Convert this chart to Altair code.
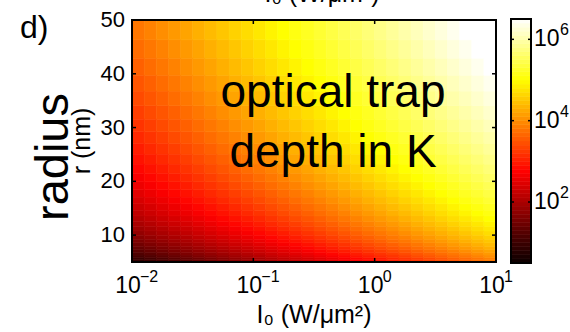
import altair as alt
import pandas as pd

FONT = "Liberation Sans"

# ---- data ----
# cell edges of the intensity axis (log10 of W/um^2)
log_intensity_edges = [-2.0, -1.9, -1.8, -1.7, -1.6, -1.5, -1.4, -1.3, -1.2, -1.1,
                       -1.0, -0.9, -0.8, -0.7, -0.6, -0.5, -0.4, -0.3, -0.2, -0.1,
                       0.0, 0.1, 0.2, 0.3, 0.4, 0.5, 0.6, 0.7, 0.8, 0.9, 1.0]
# cell edges of the radius axis (nm)
radius_edges = [5.0, 5.399, 5.83, 6.295, 6.797, 7.339, 7.924, 8.557, 9.239, 9.976,
                10.772, 11.632, 12.559, 13.561, 14.643, 15.811, 17.073, 18.435, 19.905,
                21.493, 23.208, 25.059, 27.058, 29.217, 31.548, 34.065, 36.782, 39.716,
                42.885, 46.306, 50.0]
# log10 of the optical trap depth (K); rows = radius cells (bottom to top), cols = intensity cells
log_trap_depth = [
    [0.9, 1.0, 1.1, 1.2, 1.3, 1.4, 1.5, 1.6, 1.7, 1.8, 1.9, 2.0, 2.1, 2.2, 2.3, 2.4, 2.5, 2.6, 2.7, 2.8, 2.9, 3.0, 3.1, 3.2, 3.3, 3.4, 3.5, 3.6, 3.7, 3.8],
    [1.0, 1.1, 1.2, 1.3, 1.4, 1.5, 1.6, 1.7, 1.8, 1.9, 2.0, 2.1, 2.2, 2.3, 2.4, 2.5, 2.6, 2.7, 2.8, 2.9, 3.0, 3.1, 3.2, 3.3, 3.4, 3.5, 3.6, 3.7, 3.8, 3.9],
    [1.1, 1.2, 1.3, 1.4, 1.5, 1.6, 1.7, 1.8, 1.9, 2.0, 2.1, 2.2, 2.3, 2.4, 2.5, 2.6, 2.7, 2.8, 2.9, 3.0, 3.1, 3.2, 3.3, 3.4, 3.5, 3.6, 3.7, 3.8, 3.9, 4.0],
    [1.2, 1.3, 1.4, 1.5, 1.6, 1.7, 1.8, 1.9, 2.0, 2.1, 2.2, 2.3, 2.4, 2.5, 2.6, 2.7, 2.8, 2.9, 3.0, 3.1, 3.2, 3.3, 3.4, 3.5, 3.6, 3.7, 3.8, 3.9, 4.0, 4.1],
    [1.3, 1.4, 1.5, 1.6, 1.7, 1.8, 1.9, 2.0, 2.1, 2.2, 2.3, 2.4, 2.5, 2.6, 2.7, 2.8, 2.9, 3.0, 3.1, 3.2, 3.3, 3.4, 3.5, 3.6, 3.7, 3.8, 3.9, 4.0, 4.1, 4.2],
    [1.4, 1.5, 1.6, 1.7, 1.8, 1.9, 2.0, 2.1, 2.2, 2.3, 2.4, 2.5, 2.6, 2.7, 2.8, 2.9, 3.0, 3.1, 3.2, 3.3, 3.4, 3.5, 3.6, 3.7, 3.8, 3.9, 4.0, 4.1, 4.2, 4.3],
    [1.5, 1.6, 1.7, 1.8, 1.9, 2.0, 2.1, 2.2, 2.3, 2.4, 2.5, 2.6, 2.7, 2.8, 2.9, 3.0, 3.1, 3.2, 3.3, 3.4, 3.5, 3.6, 3.7, 3.8, 3.9, 4.0, 4.1, 4.2, 4.3, 4.4],
    [1.6, 1.7, 1.8, 1.9, 2.0, 2.1, 2.2, 2.3, 2.4, 2.5, 2.6, 2.7, 2.8, 2.9, 3.0, 3.1, 3.2, 3.3, 3.4, 3.5, 3.6, 3.7, 3.8, 3.9, 4.0, 4.1, 4.2, 4.3, 4.4, 4.5],
    [1.7, 1.8, 1.9, 2.0, 2.1, 2.2, 2.3, 2.4, 2.5, 2.6, 2.7, 2.8, 2.9, 3.0, 3.1, 3.2, 3.3, 3.4, 3.5, 3.6, 3.7, 3.8, 3.9, 4.0, 4.1, 4.2, 4.3, 4.4, 4.5, 4.6],
    [1.8, 1.9, 2.0, 2.1, 2.2, 2.3, 2.4, 2.5, 2.6, 2.7, 2.8, 2.9, 3.0, 3.1, 3.2, 3.3, 3.4, 3.5, 3.6, 3.7, 3.8, 3.9, 4.0, 4.1, 4.2, 4.3, 4.4, 4.5, 4.6, 4.7],
    [1.9, 2.0, 2.1, 2.2, 2.3, 2.4, 2.5, 2.6, 2.7, 2.8, 2.9, 3.0, 3.1, 3.2, 3.3, 3.4, 3.5, 3.6, 3.7, 3.8, 3.9, 4.0, 4.1, 4.2, 4.3, 4.4, 4.5, 4.6, 4.7, 4.8],
    [2.0, 2.1, 2.2, 2.3, 2.4, 2.5, 2.6, 2.7, 2.8, 2.9, 3.0, 3.1, 3.2, 3.3, 3.4, 3.5, 3.6, 3.7, 3.8, 3.9, 4.0, 4.1, 4.2, 4.3, 4.4, 4.5, 4.6, 4.7, 4.8, 4.9],
    [2.1, 2.2, 2.3, 2.4, 2.5, 2.6, 2.7, 2.8, 2.9, 3.0, 3.1, 3.2, 3.3, 3.4, 3.5, 3.6, 3.7, 3.8, 3.9, 4.0, 4.1, 4.2, 4.3, 4.4, 4.5, 4.6, 4.7, 4.8, 4.9, 5.0],
    [2.2, 2.3, 2.4, 2.5, 2.6, 2.7, 2.8, 2.9, 3.0, 3.1, 3.2, 3.3, 3.4, 3.5, 3.6, 3.7, 3.8, 3.9, 4.0, 4.1, 4.2, 4.3, 4.4, 4.5, 4.6, 4.7, 4.8, 4.9, 5.0, 5.1],
    [2.3, 2.4, 2.5, 2.6, 2.7, 2.8, 2.9, 3.0, 3.1, 3.2, 3.3, 3.4, 3.5, 3.6, 3.7, 3.8, 3.9, 4.0, 4.1, 4.2, 4.3, 4.4, 4.5, 4.6, 4.7, 4.8, 4.9, 5.0, 5.1, 5.2],
    [2.4, 2.5, 2.6, 2.7, 2.8, 2.9, 3.0, 3.1, 3.2, 3.3, 3.4, 3.5, 3.6, 3.7, 3.8, 3.9, 4.0, 4.1, 4.2, 4.3, 4.4, 4.5, 4.6, 4.7, 4.8, 4.9, 5.0, 5.1, 5.2, 5.3],
    [2.5, 2.6, 2.7, 2.8, 2.9, 3.0, 3.1, 3.2, 3.3, 3.4, 3.5, 3.6, 3.7, 3.8, 3.9, 4.0, 4.1, 4.2, 4.3, 4.4, 4.5, 4.6, 4.7, 4.8, 4.9, 5.0, 5.1, 5.2, 5.3, 5.4],
    [2.6, 2.7, 2.8, 2.9, 3.0, 3.1, 3.2, 3.3, 3.4, 3.5, 3.6, 3.7, 3.8, 3.9, 4.0, 4.1, 4.2, 4.3, 4.4, 4.5, 4.6, 4.7, 4.8, 4.9, 5.0, 5.1, 5.2, 5.3, 5.4, 5.5],
    [2.7, 2.8, 2.9, 3.0, 3.1, 3.2, 3.3, 3.4, 3.5, 3.6, 3.7, 3.8, 3.9, 4.0, 4.1, 4.2, 4.3, 4.4, 4.5, 4.6, 4.7, 4.8, 4.9, 5.0, 5.1, 5.2, 5.3, 5.4, 5.5, 5.6],
    [2.8, 2.9, 3.0, 3.1, 3.2, 3.3, 3.4, 3.5, 3.6, 3.7, 3.8, 3.9, 4.0, 4.1, 4.2, 4.3, 4.4, 4.5, 4.6, 4.7, 4.8, 4.9, 5.0, 5.1, 5.2, 5.3, 5.4, 5.5, 5.6, 5.7],
    [2.9, 3.0, 3.1, 3.2, 3.3, 3.4, 3.5, 3.6, 3.7, 3.8, 3.9, 4.0, 4.1, 4.2, 4.3, 4.4, 4.5, 4.6, 4.7, 4.8, 4.9, 5.0, 5.1, 5.2, 5.3, 5.4, 5.5, 5.6, 5.7, 5.8],
    [3.0, 3.1, 3.2, 3.3, 3.4, 3.5, 3.6, 3.7, 3.8, 3.9, 4.0, 4.1, 4.2, 4.3, 4.4, 4.5, 4.6, 4.7, 4.8, 4.9, 5.0, 5.1, 5.2, 5.3, 5.4, 5.5, 5.6, 5.7, 5.8, 5.9],
    [3.1, 3.2, 3.3, 3.4, 3.5, 3.6, 3.7, 3.8, 3.9, 4.0, 4.1, 4.2, 4.3, 4.4, 4.5, 4.6, 4.7, 4.8, 4.9, 5.0, 5.1, 5.2, 5.3, 5.4, 5.5, 5.6, 5.7, 5.8, 5.9, 6.0],
    [3.2, 3.3, 3.4, 3.5, 3.6, 3.7, 3.8, 3.9, 4.0, 4.1, 4.2, 4.3, 4.4, 4.5, 4.6, 4.7, 4.8, 4.9, 5.0, 5.1, 5.2, 5.3, 5.4, 5.5, 5.6, 5.7, 5.8, 5.9, 6.0, 6.1],
    [3.3, 3.4, 3.5, 3.6, 3.7, 3.8, 3.9, 4.0, 4.1, 4.2, 4.3, 4.4, 4.5, 4.6, 4.7, 4.8, 4.9, 5.0, 5.1, 5.2, 5.3, 5.4, 5.5, 5.6, 5.7, 5.8, 5.9, 6.0, 6.1, 6.2],
    [3.4, 3.5, 3.6, 3.7, 3.8, 3.9, 4.0, 4.1, 4.2, 4.3, 4.4, 4.5, 4.6, 4.7, 4.8, 4.9, 5.0, 5.1, 5.2, 5.3, 5.4, 5.5, 5.6, 5.7, 5.8, 5.9, 6.0, 6.1, 6.2, 6.3],
    [3.5, 3.6, 3.7, 3.8, 3.9, 4.0, 4.1, 4.2, 4.3, 4.4, 4.5, 4.6, 4.7, 4.8, 4.9, 5.0, 5.1, 5.2, 5.3, 5.4, 5.5, 5.6, 5.7, 5.8, 5.9, 6.0, 6.1, 6.2, 6.3, 6.4],
    [3.6, 3.7, 3.8, 3.9, 4.0, 4.1, 4.2, 4.3, 4.4, 4.5, 4.6, 4.7, 4.8, 4.9, 5.0, 5.1, 5.2, 5.3, 5.4, 5.5, 5.6, 5.7, 5.8, 5.9, 6.0, 6.1, 6.2, 6.3, 6.4, 6.5],
    [3.7, 3.8, 3.9, 4.0, 4.1, 4.2, 4.3, 4.4, 4.5, 4.6, 4.7, 4.8, 4.9, 5.0, 5.1, 5.2, 5.3, 5.4, 5.5, 5.6, 5.7, 5.8, 5.9, 6.0, 6.1, 6.2, 6.3, 6.4, 6.5, 6.6],
    [3.8, 3.9, 4.0, 4.1, 4.2, 4.3, 4.4, 4.5, 4.6, 4.7, 4.8, 4.9, 5.0, 5.1, 5.2, 5.3, 5.4, 5.5, 5.6, 5.7, 5.8, 5.9, 6.0, 6.1, 6.2, 6.3, 6.4, 6.5, 6.6, 6.7],
]

x_tick_values = [0.01, 0.1, 1.0, 10.0]
x_tick_exponents = ["\u22122", "\u22121", "0", "1"]
x_inner_ticks = [0.1, 1.0]
y_tick_values = [10, 20, 30, 40, 50]
y_inner_ticks = [10, 20, 30, 40]

# colorbar: band edges in log10(K) and labelled decades
colorbar_edges = [0.5, 0.6, 0.7, 0.8, 0.9, 1.0, 1.1, 1.2, 1.3, 1.4, 1.5, 1.6, 1.7, 1.8, 1.9,
                  2.0, 2.1, 2.2, 2.3, 2.4, 2.5, 2.6, 2.7, 2.8, 2.9, 3.0, 3.1, 3.2, 3.3, 3.4,
                  3.5, 3.6, 3.7, 3.8, 3.9, 4.0, 4.1, 4.2, 4.3, 4.4, 4.5, 4.6, 4.7, 4.8, 4.9,
                  5.0, 5.1, 5.2, 5.3, 5.4, 5.5, 5.6, 5.7, 5.8, 5.9, 6.0, 6.1, 6.2, 6.3, 6.4, 6.5]
colorbar_ticks = [2, 4, 6]
colorbar_exponents = ["2", "4", "6"]

# MATLAB "hot" colormap stops over the colorbar range 10^0.5 .. 10^6.5
hot_stops = [0.5, 1.25, 2.0, 2.75, 3.5, 4.25, 5.0, 5.75, 6.5]
hot_colors = ["#0b0000", "#550000", "#aa0000", "#ff0000", "#ff5500",
              "#ffaa00", "#ffff00", "#ffff80", "#ffffff"]

# ---- build tables ----
rows = []
for j in range(len(radius_edges) - 1):
    for i in range(len(log_intensity_edges) - 1):
        rows.append({
            "I_lo": 10 ** log_intensity_edges[i],
            "I_hi": 10 ** log_intensity_edges[i + 1],
            "r_lo": radius_edges[j],
            "r_hi": radius_edges[j + 1],
            "logD": log_trap_depth[j][i],
        })
cells = pd.DataFrame(rows)

bands = pd.DataFrame({
    "cb_lo": colorbar_edges[:-1],
    "cb_hi": colorbar_edges[1:],
    "logD": [(a + b) / 2 for a, b in zip(colorbar_edges[:-1], colorbar_edges[1:])],
})

W, H = 364, 242
CB_X0, CB_X1 = 379, 399
xscale = alt.Scale(type="log", domain=[0.01, 10], nice=False)
yscale = alt.Scale(domain=[5, 50], nice=False, zero=False)
cbscale = alt.Scale(domain=[0.5, 6.5], range=[H + 1, -1], nice=False, zero=False)
cscale = alt.Scale(domain=hot_stops, range=hot_colors, interpolate="rgb", clamp=True)

X = lambda f: alt.X(f, scale=xscale, axis=None)
Y = lambda f: alt.Y(f, scale=yscale, axis=None)
CB = lambda f: alt.Y(f, scale=cbscale, axis=None)

heat = alt.Chart(cells).mark_rect(strokeWidth=0.6).encode(
    x=X("I_lo:Q"), x2="I_hi:Q", y=Y("r_lo:Q"), y2="r_hi:Q",
    color=alt.Color("logD:Q", scale=cscale, legend=None),
    stroke=alt.Color("logD:Q", scale=cscale, legend=None),
)

cbar = alt.Chart(bands).mark_rect(strokeWidth=0.6).encode(
    x=alt.value(CB_X0), x2=alt.value(CB_X1), y=CB("cb_lo:Q"), y2="cb_hi:Q",
    color=alt.Color("logD:Q", scale=cscale, legend=None),
    stroke=alt.Color("logD:Q", scale=cscale, legend=None),
)

one = pd.DataFrame({"k": [0]})
frame = alt.Chart(one).mark_rect(filled=False, stroke="black", strokeWidth=2).encode(
    x=alt.value(0), x2=alt.value(W), y=alt.value(0), y2=alt.value(H))
cb_frame = alt.Chart(one).mark_rect(filled=False, stroke="black", strokeWidth=2).encode(
    x=alt.value(CB_X0), x2=alt.value(CB_X1), y=alt.value(-1), y2=alt.value(H + 1))

xt = pd.DataFrame({"I_lo": x_inner_ticks})
yt = pd.DataFrame({"r_lo": y_inner_ticks})
ct = pd.DataFrame({"cb": colorbar_ticks, "exp": colorbar_exponents, "base": ["10"] * 3})
RULE = dict(color="black", strokeWidth=1.5)
tick_bottom = alt.Chart(xt).mark_rule(**RULE).encode(x=X("I_lo:Q"), y=alt.value(H), y2=alt.value(H - 4))
tick_top = alt.Chart(xt).mark_rule(**RULE).encode(x=X("I_lo:Q"), y=alt.value(0), y2=alt.value(4))
tick_left = alt.Chart(yt).mark_rule(**RULE).encode(y=Y("r_lo:Q"), x=alt.value(0), x2=alt.value(4))
tick_right = alt.Chart(yt).mark_rule(**RULE).encode(y=Y("r_lo:Q"), x=alt.value(W), x2=alt.value(W - 4))
cb_tick_l = alt.Chart(ct).mark_rule(**RULE).encode(y=CB("cb:Q"), x=alt.value(CB_X0), x2=alt.value(CB_X0 + 3))
cb_tick_r = alt.Chart(ct).mark_rule(**RULE).encode(y=CB("cb:Q"), x=alt.value(CB_X1), x2=alt.value(CB_X1 - 3))

# tick labels
xl = pd.DataFrame({"I_lo": x_tick_values, "exp": x_tick_exponents, "base": ["10"] * 4})
xlab_base = alt.Chart(xl).mark_text(font=FONT, fontSize=23, align="center",
                                    baseline="alphabetic", dx=-4, color="black").encode(
    x=X("I_lo:Q"), y=alt.value(273), text="base:N")
xlab_exp = alt.Chart(xl).mark_text(font=FONT, fontSize=16, align="left",
                                   baseline="alphabetic", dx=8, color="black").encode(
    x=X("I_lo:Q"), y=alt.value(262), text="exp:N")

yl = pd.DataFrame({"r_lo": y_tick_values})
ylab = alt.Chart(yl).mark_text(font=FONT, fontSize=22, align="right",
                               baseline="middle", color="black").encode(
    y=Y("r_lo:Q"), x=alt.value(-7), text=alt.Text("r_lo:Q", format="d"))

cb_base = alt.Chart(ct).mark_text(font=FONT, fontSize=23, align="left",
                                  baseline="middle", color="black").encode(
    y=CB("cb:Q"), x=alt.value(CB_X1 + 3), text="base:N")
cb_exp = alt.Chart(ct).mark_text(font=FONT, fontSize=16, align="left",
                                 baseline="middle", dy=-9, color="black").encode(
    y=CB("cb:Q"), x=alt.value(CB_X1 + 29), text="exp:N")


def label(txt, x, y, size, angle=0, align="left"):
    return alt.Chart(pd.DataFrame({"t": [txt]})).mark_text(
        font=FONT, fontSize=size, angle=angle, align=align, baseline="alphabetic",
        color="black").encode(text="t:N", x=alt.value(x), y=alt.value(y))


x_title = label("I\u2080 (W/\u03bcm\u00b2)", 182, 303, 25, align="center")
y_title = label("r (nm)", -42, 121, 25, angle=270, align="center")
panel = label("d)", -112, 18, 32)
radius = label("radius", -64, 137, 47, angle=270, align="center")
line1 = label("optical trap", 201, 87, 46, align="center")
line2 = label("depth in K", 201, 147, 46, align="center")
top_cut = label("I\u2080 (W/\u03bcm\u00b2)", 190, -18, 25, align="center")

chart = alt.layer(
    heat, cbar, frame, cb_frame,
    tick_bottom, tick_top, tick_left, tick_right, cb_tick_l, cb_tick_r,
    xlab_base, xlab_exp, ylab, cb_base, cb_exp,
    x_title, y_title, panel, radius, line1, line2, top_cut,
).resolve_scale(y="independent").properties(
    width=W, height=H, autosize="none",
    padding={"left": 132, "top": 20, "right": 74, "bottom": 70},
    background="white",
).configure_view(stroke=None)

chart.save("out.html", embed_options={"renderer": "svg", "actions": False})
